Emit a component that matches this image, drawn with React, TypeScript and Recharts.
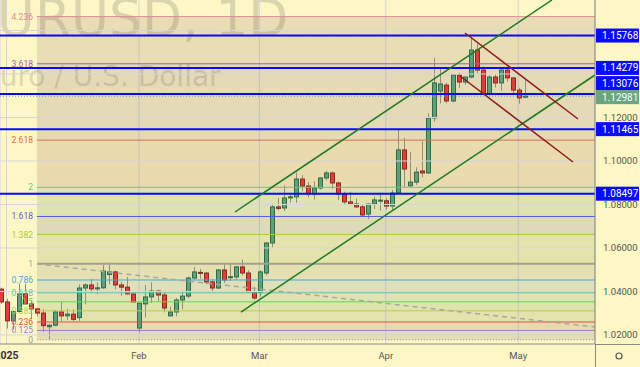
import React from 'react';
import { ComposedChart, Bar, XAxis, YAxis, CartesianGrid, ReferenceLine, ReferenceArea } from 'recharts';

// EURUSD daily, Dec 31 2024 .. May 2 2025 (bar index 0..87)
const OPEN = [
  1.0411, 1.0352, 1.0265, 1.0308, 1.0389, 1.0343, 1.0320, 1.0301, 1.0238, 1.0245,
  1.0306, 1.0288, 1.0296, 1.0280, 1.0416, 1.0430, 1.0412, 1.0417, 1.0478, 1.0490,
  1.0430, 1.0420, 1.0389, 1.0232, 1.0343, 1.0375, 1.0402, 1.0384, 1.0288, 1.0306,
  1.0361, 1.0379, 1.0462, 1.0488, 1.0485, 1.0444, 1.0416, 1.0499, 1.0466, 1.0467,
  1.0513, 1.0485, 1.0398, 1.0395, 1.0485, 1.0623, 1.0789, 1.0784, 1.0833, 1.0835,
  1.0917, 1.0885, 1.0848, 1.0876, 1.0922, 1.0945, 1.0899, 1.0848, 1.0812, 1.0802,
  1.0789, 1.0756, 1.0802, 1.0818, 1.0817, 1.0793, 1.0853, 1.1051, 1.0886, 1.0903,
  1.0954, 1.0945, 1.1198, 1.1322, 1.1349, 1.1276, 1.1395, 1.1363, 1.1386, 1.1510,
  1.1418, 1.1308, 1.1386, 1.1359, 1.1418, 1.1382, 1.1326, 1.1294,
];
const HIGH = [
  1.0418, 1.0367, 1.0312, 1.0437, 1.0436, 1.0356, 1.0324, 1.0318, 1.0250, 1.0315,
  1.0353, 1.0320, 1.0318, 1.0432, 1.0437, 1.0457, 1.0441, 1.0521, 1.0533, 1.0495,
  1.0444, 1.0467, 1.0402, 1.0347, 1.0430, 1.0442, 1.0408, 1.0401, 1.0330, 1.0370,
  1.0404, 1.0469, 1.0513, 1.0504, 1.0488, 1.0458, 1.0504, 1.0527, 1.0528, 1.0517,
  1.0546, 1.0497, 1.0421, 1.0497, 1.0627, 1.0803, 1.0830, 1.0888, 1.0854, 1.0947,
  1.0935, 1.0903, 1.0906, 1.0925, 1.0955, 1.0952, 1.0905, 1.0859, 1.0858, 1.0827,
  1.0802, 1.0804, 1.0837, 1.0854, 1.0829, 1.0867, 1.1143, 1.1107, 1.1040, 1.0971,
  1.1090, 1.1220, 1.1474, 1.1424, 1.1360, 1.1400, 1.1406, 1.1386, 1.1573, 1.1540,
  1.1436, 1.1393, 1.1397, 1.1427, 1.1426, 1.1383, 1.1337, 1.1380,
];
const LOW = [
  1.0343, 1.0230, 1.0225, 1.0305, 1.0340, 1.0272, 1.0286, 1.0214, 1.0180, 1.0240,
  1.0264, 1.0268, 1.0265, 1.0265, 1.0341, 1.0393, 1.0388, 1.0412, 1.0434, 1.0410,
  1.0380, 1.0385, 1.0350, 1.0212, 1.0280, 1.0347, 1.0356, 1.0304, 1.0285, 1.0286,
  1.0318, 1.0370, 1.0455, 1.0458, 1.0434, 1.0400, 1.0412, 1.0440, 1.0448, 1.0454,
  1.0473, 1.0397, 1.0360, 1.0376, 1.0474, 1.0603, 1.0772, 1.0770, 1.0808, 1.0808,
  1.0860, 1.0832, 1.0823, 1.0868, 1.0911, 1.0871, 1.0820, 1.0797, 1.0797, 1.0784,
  1.0745, 1.0733, 1.0780, 1.0772, 1.0777, 1.0772, 1.0851, 1.0881, 1.0880, 1.0890,
  1.0925, 1.0940, 1.1180, 1.1265, 1.1265, 1.1270, 1.1335, 1.1350, 1.1380, 1.1404,
  1.1303, 1.1303, 1.1338, 1.1323, 1.1365, 1.1308, 1.1264, 1.1288,
];
const CLOSE = [
  1.0352, 1.0265, 1.0308, 1.0389, 1.0343, 1.0320, 1.0301, 1.0243, 1.0245, 1.0306,
  1.0288, 1.0296, 1.0272, 1.0416, 1.0430, 1.0412, 1.0417, 1.0494, 1.0490, 1.0430,
  1.0420, 1.0389, 1.0352, 1.0346, 1.0375, 1.0402, 1.0384, 1.0324, 1.0306, 1.0361,
  1.0379, 1.0462, 1.0490, 1.0485, 1.0444, 1.0416, 1.0499, 1.0453, 1.0468, 1.0513,
  1.0485, 1.0398, 1.0370, 1.0490, 1.0623, 1.0789, 1.0782, 1.0830, 1.0835, 1.0917,
  1.0885, 1.0848, 1.0876, 1.0922, 1.0945, 1.0899, 1.0848, 1.0812, 1.0802, 1.0789,
  1.0752, 1.0802, 1.0821, 1.0820, 1.0793, 1.0853, 1.1051, 1.0963, 1.0903, 1.0949,
  1.0945, 1.1198, 1.1359, 1.1354, 1.1276, 1.1395, 1.1363, 1.1386, 1.1510, 1.1418,
  1.1308, 1.1386, 1.1359, 1.1418, 1.1382, 1.1326, 1.1290, 1.1298,
];

const MONTH_TICKS = [1, 23, 43, 64, 86];
const MONTH_LABELS = ['2025', 'Feb', 'Mar', 'Apr', 'May'];
const PRICE_TICKS = [1.02, 1.04, 1.06, 1.08, 1.1, 1.12];
const GRID_PRICES = [1.02, 1.04, 1.06, 1.08, 1.1, 1.12, 1.14, 1.16];

const KEY_LEVELS = [1.15768, 1.14279, 1.13076, 1.11465, 1.08497];
const KEY_TAG_SHIFT = [0, 0, -11, 0, 0];
const LAST_PRICE = 1.12981;
const HIGH_MARK = 1.1573;

const FIB_RATIOS = [0, 0.125, 0.236, 0.382, 0.5, 0.618, 0.786, 1, 1.382, 1.618, 2, 2.618, 3.618, 4.236];
const FIB_COLORS = ['#9a9a96', '#9784c6', '#e0504a', '#b2cf4c', '#62d852', '#58cc9c', '#4aa6dc', '#a3a08e', '#a6cc44', '#4f5fe0', '#62c98c', '#e06a55', '#a25db4', '#e0899a'];
const FIB_LOW = 1.0177;
const FIB_HIGH = 1.0528;
const FIB_START = 6.06;

// trend lines: [bar1, price1, bar2, price2]
const GREEN_LINES = [
  [38.95, 1.07655, 91.6, 1.17402],
  [39.95, 1.03057, 98.75, 1.13954],
];
const RED_LINES = [
  [77.16, 1.15885, 95.93, 1.11931],
  [76.33, 1.13908, 95.1, 1.09954],
];
const FIB_TREND = [6.06, 1.05264, 98.75, 1.02368];

const X_DOMAIN = [-0.08, 98.75];
const Y_DOMAIN = [1.01586, 1.17402];

const BG = '#fdf7c6';
const FONT = 'Roboto, "DejaVu Sans", sans-serif';

const data = OPEN.map((o, i) => ({ i, o, h: HIGH[i], l: LOW[i], c: CLOSE[i], range: [LOW[i], HIGH[i]] }));
const fibPrice = (r: number) => FIB_LOW + r * (FIB_HIGH - FIB_LOW);

function Candle(props: any) {
  const { x, y, width, height, payload } = props;
  if (x == null || !payload) return null;
  const { o, h, l, c } = payload;
  const top = Math.min(y, y + height);
  const span = Math.abs(height);
  const k = span / (h - l);
  const py = (p: number) => top + (h - p) * k;
  const up = c >= o;
  const cx = Math.round(x + width / 2) + 0.5;
  const bTop = py(Math.max(o, c));
  const bH = Math.max(1, py(Math.min(o, c)) - bTop);
  return (
    <g>
      <line x1={cx} x2={cx} y1={top} y2={top + span} stroke="#8e8e84" strokeWidth={1} />
      <rect x={cx - 2} y={bTop} width={4} height={bH}
        fill={up ? '#5f9f7a' : '#dc4139'} stroke={up ? '#2f6b4a' : '#8c2823'} strokeWidth={1} />
    </g>
  );
}

function MonthTick(props: any) {
  const { x, y, payload } = props;
  const k = MONTH_TICKS.indexOf(payload.value);
  const first = k === 0;
  return (
    <text x={x} y={y + 15} textAnchor="middle" fontFamily={FONT} fontSize={first ? 10.5 : 9.5}
      fontWeight={first ? 700 : 400} fill={first ? '#333' : '#555'}>
      {MONTH_LABELS[k]}
    </text>
  );
}

function PriceTag({ viewBox, text, bg, shift }: any) {
  if (!viewBox) return null;
  const x0 = viewBox.x + viewBox.width + 1;
  const yc = viewBox.y + shift;
  return (
    <g>
      <rect x={x0} y={yc - 7} width={43} height={14} fill={bg} />
      <text x={x0 + 6} y={yc + 3.5} fill="#fff" fontFamily={FONT} fontSize={10}>{text}</text>
    </g>
  );
}

export default function App() {
  return (
    <div style={{ position: 'absolute', left: 0, top: 0, width: 640, height: 367, background: BG, overflow: 'hidden' }}>
      <div style={{ position: 'absolute', left: -36, top: -12, fontFamily: '"DejaVu Sans", sans-serif', fontSize: 52, color: 'rgba(80,80,70,0.2)', whiteSpace: 'nowrap' }}>
        EURUSD, 1D
      </div>
      <div style={{ position: 'absolute', left: -18, top: 60, fontFamily: '"DejaVu Sans", sans-serif', fontSize: 28, color: 'rgba(80,80,70,0.2)', whiteSpace: 'nowrap' }}>
        Euro / U.S. Dollar
      </div>
      <div style={{ position: 'absolute', left: 0, top: 0 }}>
        <ComposedChart width={640} height={367} data={data} margin={{ top: 0, right: 0, bottom: 0, left: 0 }}>
          <XAxis dataKey="i" type="number" domain={X_DOMAIN} allowDataOverflow ticks={MONTH_TICKS}
            tick={<MonthTick />} tickLine={false} tickSize={0} tickMargin={0} height={23}
            axisLine={{ stroke: '#8a8a80' }} interval={0} />
          <YAxis orientation="right" type="number" domain={Y_DOMAIN} allowDataOverflow ticks={PRICE_TICKS}
            tickFormatter={(v: number) => v.toFixed(5)} width={45} tickLine={false} tickSize={0} tickMargin={8}
            tick={{ fill: '#555', fontSize: 9.5, fontFamily: FONT }} axisLine={{ stroke: '#8a8a80' }} interval={0} />
          <CartesianGrid horizontal={false} stroke="#d6d5d8" />

          <ReferenceArea x1={FIB_START} x2={X_DOMAIN[1]} y1={fibPrice(0)} y2={fibPrice(4.236)}
            fill="#6e6a50" fillOpacity={0.13} stroke="none" />
          {FIB_RATIOS.slice(1).map((r, k) => (
            <ReferenceArea key={'b' + r} x1={FIB_START} x2={X_DOMAIN[1]} y1={fibPrice(FIB_RATIOS[k])} y2={fibPrice(r)}
              fill={FIB_COLORS[k + 1]} fillOpacity={0.08} stroke="none" />
          ))}

          {GRID_PRICES.map((p) => (
            <ReferenceLine key={'g' + p} y={p} stroke="#d6d5d8" strokeWidth={1} />
          ))}

          <Bar dataKey="range" barSize={5} isAnimationActive={false} shape={(p: any) => <Candle {...p} />} />

          {FIB_RATIOS.map((r, k) => (
            <ReferenceLine key={'f' + r}
              segment={[{ x: FIB_START, y: fibPrice(r) }, { x: X_DOMAIN[1], y: fibPrice(r) }]}
              stroke={FIB_COLORS[k]} strokeWidth={r === 1 ? 2 : 1} strokeDasharray={r === 0 ? '1 2' : undefined}
              ifOverflow="hidden"
              label={{ value: String(r), position: 'left', fill: FIB_COLORS[k], fontSize: 8.5, fontFamily: FONT, offset: 4 }} />
          ))}

          <ReferenceLine segment={[{ x: FIB_TREND[0], y: FIB_TREND[1] }, { x: FIB_TREND[2], y: FIB_TREND[3] }]}
            stroke="#a8a89c" strokeWidth={1.5} strokeDasharray="5 4" ifOverflow="hidden" />

          <ReferenceLine y={HIGH_MARK} stroke="#b0ad98" strokeDasharray="1 2" />
          <ReferenceLine y={LAST_PRICE} stroke="#6c9c80" strokeDasharray="1 2"
            label={(p: any) => <PriceTag {...p} text={LAST_PRICE.toFixed(5)} bg="#6aa582" shift={1} />} />

          {KEY_LEVELS.map((v, k) => (
            <ReferenceLine key={'k' + v} y={v} stroke="#0a0aff" strokeWidth={2}
              label={(p: any) => <PriceTag {...p} text={v.toFixed(5)} bg="#0a0aff" shift={KEY_TAG_SHIFT[k]} />} />
          ))}

          {GREEN_LINES.map((s, k) => (
            <ReferenceLine key={'gl' + k} segment={[{ x: s[0], y: s[1] }, { x: s[2], y: s[3] }]}
              stroke="#1d7a22" strokeWidth={1.5} ifOverflow="hidden" />
          ))}
          {RED_LINES.map((s, k) => (
            <ReferenceLine key={'rl' + k} segment={[{ x: s[0], y: s[1] }, { x: s[2], y: s[3] }]}
              stroke="#8e1c1c" strokeWidth={1.5} ifOverflow="hidden" />
          ))}
        </ComposedChart>
      </div>
      <svg width={640} height={367} style={{ position: 'absolute', left: 0, top: 0, pointerEvents: 'none' }}>
        <line x1={595.5} x2={595.5} y1={344} y2={367} stroke="#8a8a80" />
        <line x1={595} x2={640} y1={344.5} y2={344.5} stroke="#8a8a80" />
        <circle cx={619} cy={356} r={3} fill="none" stroke="#555" strokeWidth={1.2} />
      </svg>
    </div>
  );
}
